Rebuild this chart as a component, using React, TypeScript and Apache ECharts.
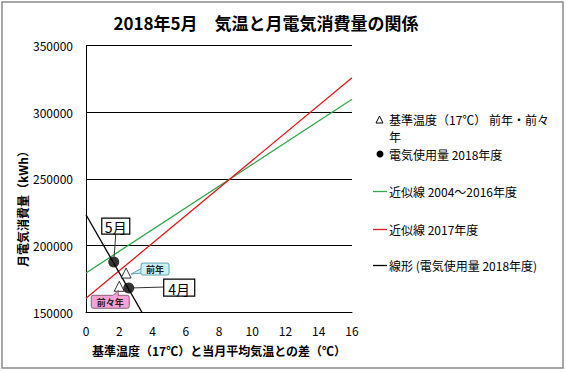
import React, { useEffect, useRef } from "react";
import * as echarts from "echarts";

const titleText = "2018年5月\u3000気温と月電気消費量の関係";
const xAxisName = "基準温度（17℃）と当月平均気温との差（℃）";
const yAxisName = "月電気消費量（kWh）";

// 基準温度(17℃) 前年・前々年
const baseTempPoints: number[][] = [
  [2.41, 179250],
  [2.0, 169300],
];
const baseTempLabels = ["前年", "前々年"];
// 電気使用量 2018年度 (5月, 4月)
const usage2018: number[][] = [
  [1.67, 187500],
  [2.57, 168000],
];
const usageLabels = ["5月", "4月"];
// 近似線
const trend0416: number[][] = [
  [0, 179300],
  [16, 309800],
];
const trend2017: number[][] = [
  [0, 160300],
  [16, 325900],
];
const trend2018: number[][] = [
  [0, 223000],
  [4, 136000],
];
const legendNames = [
  "基準温度（17℃） 前年・前々年",
  "電気使用量 2018年度",
  "近似線 2004～2016年度",
  "近似線 2017年度",
  "線形 (電気使用量 2018年度)",
];

const FONT = '"Noto Sans CJK JP", "Noto Sans", sans-serif';
const GREEN = "#2ea84a";
const RED = "#e3191c";

export default function App() {
  const ref = useRef<HTMLDivElement>(null);
  useEffect(() => {
    document.body.style.margin = "0";
    const chart = echarts.init(ref.current!, null, { renderer: "svg" });
    const option: any = {
      animation: false,
      backgroundColor: "#fff",
      textStyle: { fontFamily: FONT },
      title: {
        text: titleText,
        left: 261,
        top: 9,
        textAlign: "center",
        textStyle: { fontSize: 17, fontWeight: "bold", color: "#000", fontFamily: FONT },
      },
      grid: { left: 86, right: 214, top: 45.7, bottom: 60 },
      xAxis: {
        type: "value",
        min: 0,
        max: 16,
        interval: 2,
        name: xAxisName,
        nameLocation: "middle",
        nameGap: 32,
        nameTextStyle: { fontSize: 12, fontWeight: "bold", color: "#000", fontFamily: FONT },
        axisLine: { show: true, lineStyle: { color: "#000", width: 1 } },
        axisTick: { show: false },
        splitLine: { show: false },
        axisLabel: { color: "#000", fontSize: 12, margin: 12, fontFamily: FONT },
      },
      yAxis: {
        type: "value",
        min: 150000,
        max: 350000,
        interval: 50000,
        axisLine: { show: true, lineStyle: { color: "#000", width: 1 } },
        axisTick: { show: false },
        splitLine: { show: true, lineStyle: { color: "#000", width: 1 } },
        axisLabel: {
          color: "#000",
          fontSize: 12,
          margin: 13,
          fontFamily: FONT,
          formatter: (v: number) => String(v),
        },
      },
      series: [
        {
          name: legendNames[2],
          type: "line",
          data: trend0416,
          symbol: "none",
          lineStyle: { color: GREEN, width: 1.3 },
          z: 2,
        },
        {
          name: legendNames[3],
          type: "line",
          data: trend2017,
          symbol: "none",
          lineStyle: { color: RED, width: 1.3 },
          z: 2,
        },
        {
          name: legendNames[4],
          type: "line",
          data: trend2018,
          symbol: "none",
          clip: true,
          lineStyle: { color: "#000", width: 1.3 },
          z: 3,
        },
        {
          name: legendNames[0],
          type: "scatter",
          data: baseTempPoints,
          symbol: "triangle",
          symbolSize: [10, 10],
          itemStyle: { color: "#fff", borderColor: "#000", borderWidth: 1 },
          z: 4,
        },
        {
          name: legendNames[1],
          type: "scatter",
          data: usage2018,
          symbol: "circle",
          symbolSize: 11,
          itemStyle: { color: "#000" },
          z: 5,
        },
      ],
    };
    chart.setOption(option);

    const px = (p: number[]) => chart.convertToPixel({ gridIndex: 0 }, p) as number[];
    const may = px(usage2018[0]);
    const apr = px(usage2018[1]);
    const prev = px(baseTempPoints[0]);
    const prev2 = px(baseTempPoints[1]);

    const graphics: any[] = [];
    // outer frame
    graphics.push({
      type: "rect",
      shape: { x: 2, y: 2, width: 561, height: 366 },
      style: { fill: "none", stroke: "#8a8a8a", lineWidth: 1.5 },
      z: 100,
    });
    // y axis name
    graphics.push({
      type: "text",
      x: 22,
      y: 206,
      rotation: Math.PI / 2,
      style: {
        text: yAxisName,
        align: "center",
        verticalAlign: "middle",
        font: `bold 12px ${FONT}`,
        fill: "#000",
      },
    });

    // callout 5月
    const mayBox = { x: may[0] - 12, y: may[1] - 44, w: 28, h: 16 };
    graphics.push({
      type: "line",
      shape: { x1: may[0] + 2, y1: mayBox.y + mayBox.h, x2: may[0], y2: may[1] },
      style: { stroke: "#333", lineWidth: 1 },
      z: 10,
    });
    graphics.push({
      type: "rect",
      shape: { x: mayBox.x, y: mayBox.y, width: mayBox.w, height: mayBox.h },
      style: { fill: "#fff", stroke: "#000", lineWidth: 1.2 },
      z: 11,
    });
    graphics.push({
      type: "text",
      x: mayBox.x + mayBox.w / 2,
      y: mayBox.y + mayBox.h / 2 + 1,
      style: { text: usageLabels[0], align: "center", verticalAlign: "middle", font: `14px ${FONT}`, fill: "#000" },
      z: 12,
    });
    // callout 4月
    const aprBox = { x: apr[0] + 35, y: apr[1] - 9, w: 31, h: 17 };
    graphics.push({
      type: "line",
      shape: { x1: apr[0], y1: apr[1], x2: aprBox.x, y2: aprBox.y + 8 },
      style: { stroke: "#333", lineWidth: 1 },
      z: 10,
    });
    graphics.push({
      type: "rect",
      shape: { x: aprBox.x, y: aprBox.y, width: aprBox.w, height: aprBox.h },
      style: { fill: "#fff", stroke: "#000", lineWidth: 1.2 },
      z: 11,
    });
    graphics.push({
      type: "text",
      x: aprBox.x + aprBox.w / 2,
      y: aprBox.y + aprBox.h / 2 + 1,
      style: { text: usageLabels[1], align: "center", verticalAlign: "middle", font: `14px ${FONT}`, fill: "#000" },
      z: 12,
    });
    // callout 前年
    const pBox = { x: prev[0] + 15, y: prev[1] - 10, w: 28, h: 12 };
    graphics.push({
      type: "polygon",
      shape: {
        points: [
          [pBox.x + 1, pBox.y + 5],
          [pBox.x + 1, pBox.y + 10],
          [prev[0] + 5, prev[1] + 1],
        ],
      },
      style: { fill: "#c9f1f8", stroke: "#3f8c99", lineWidth: 0.8 },
      z: 10,
    });
    graphics.push({
      type: "rect",
      shape: { x: pBox.x, y: pBox.y, width: pBox.w, height: pBox.h, r: 2 },
      style: { fill: "#c9f1f8", stroke: "#3f8c99", lineWidth: 0.8 },
      z: 11,
    });
    graphics.push({
      type: "rect",
      shape: { x: pBox.x + 0.5, y: pBox.y + 4.5, width: 2, height: 6 },
      style: { fill: "#c9f1f8" },
      z: 11,
    });
    graphics.push({
      type: "text",
      x: pBox.x + pBox.w / 2,
      y: pBox.y + pBox.h / 2 + 0.5,
      style: { text: baseTempLabels[0], align: "center", verticalAlign: "middle", font: `bold 9px ${FONT}`, fill: "#222" },
      z: 12,
    });
    // callout 前々年
    const ppBox = { x: prev2[0] - 28, y: prev2[1] + 9, w: 38, h: 13 };
    graphics.push({
      type: "polygon",
      shape: {
        points: [
          [prev2[0] - 7, ppBox.y + 1],
          [prev2[0] - 1, ppBox.y + 1],
          [prev2[0] - 1, prev2[1] + 4],
        ],
      },
      style: { fill: "#f7a1d7", stroke: "#6b4a60", lineWidth: 0.8 },
      z: 10,
    });
    graphics.push({
      type: "rect",
      shape: { x: ppBox.x, y: ppBox.y, width: ppBox.w, height: ppBox.h, r: 2 },
      style: { fill: "#f7a1d7", stroke: "#6b4a60", lineWidth: 0.8 },
      z: 11,
    });
    graphics.push({
      type: "rect",
      shape: { x: prev2[0] - 6.5, y: ppBox.y - 0.5, width: 5, height: 2 },
      style: { fill: "#f7a1d7" },
      z: 11,
    });
    graphics.push({
      type: "text",
      x: ppBox.x + ppBox.w / 2,
      y: ppBox.y + ppBox.h / 2 + 0.5,
      style: { text: baseTempLabels[1], align: "center", verticalAlign: "middle", font: `bold 9px ${FONT}`, fill: "#222" },
      z: 12,
    });

    // legend
    const lx = 389;
    const legendFont = `12px ${FONT}`;
    graphics.push({
      type: "polygon",
      shape: { points: [[379.5, 116], [376, 123], [383, 123]] },
      style: { fill: "#fff", stroke: "#000", lineWidth: 1 },
    });
    graphics.push({
      type: "text",
      x: lx,
      y: 111,
      style: {
        text: legendNames[0],
        width: 162,
        overflow: "break",
        lineHeight: 17,
        verticalAlign: "top",
        font: legendFont,
        fill: "#000",
      },
    });
    graphics.push({
      type: "circle",
      shape: { cx: 380, cy: 154, r: 3.5 },
      style: { fill: "#000" },
    });
    const lineItems = [
      { y: 191.5, color: GREEN, name: legendNames[2] },
      { y: 229.5, color: RED, name: legendNames[3] },
      { y: 265.5, color: "#000", name: legendNames[4] },
    ];
    graphics.push({
      type: "text",
      x: lx,
      y: 154,
      style: { text: legendNames[1], verticalAlign: "middle", font: legendFont, fill: "#000" },
    });
    lineItems.forEach((it) => {
      graphics.push({
        type: "line",
        shape: { x1: 373, y1: it.y, x2: 387, y2: it.y },
        style: { stroke: it.color, lineWidth: 1.3 },
      });
      graphics.push({
        type: "text",
        x: lx,
        y: it.y,
        style: { text: it.name, verticalAlign: "middle", font: legendFont, fill: "#000" },
      });
    });

    chart.setOption({ graphic: graphics });
    return () => chart.dispose();
  }, []);
  return <div ref={ref} style={{ position: "absolute", left: 0, top: 0, width: 566, height: 372 }} />;
}
